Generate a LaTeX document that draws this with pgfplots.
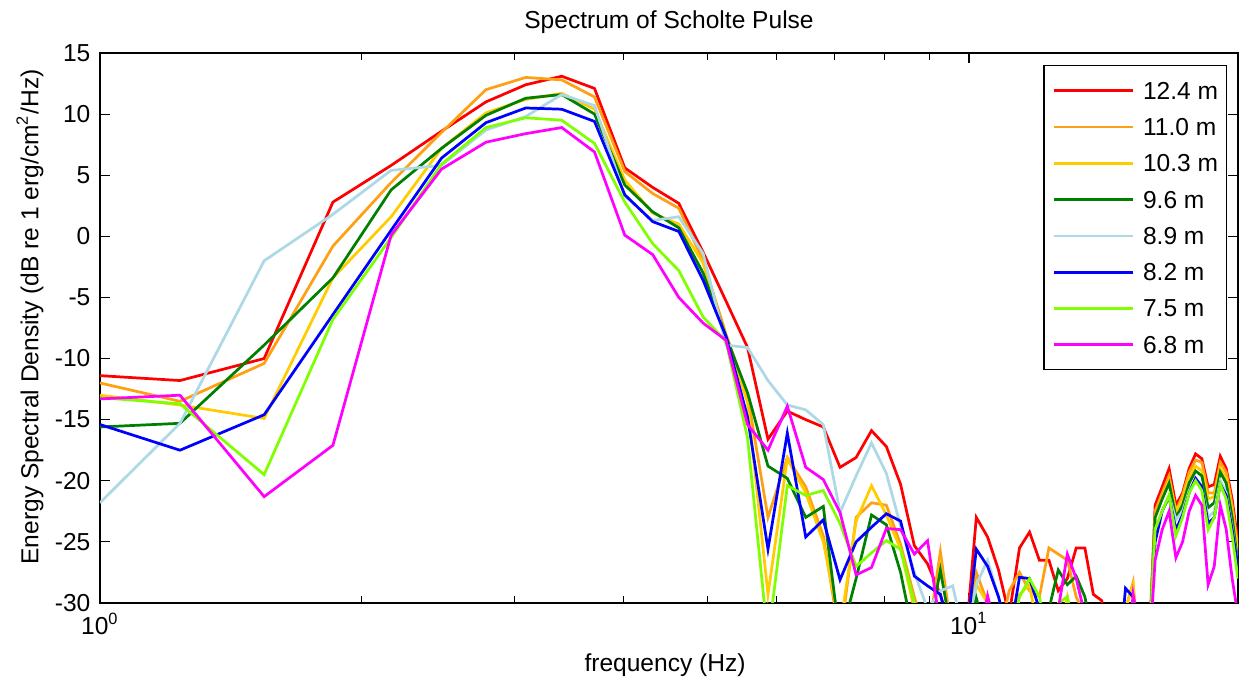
\documentclass[border=0pt]{standalone}
\usepackage{pgfplots}
\usepackage{pgfplotstable}
\pgfplotsset{compat=1.18}
\usepackage{fontspec}
\setmainfont{Liberation Sans}
\definecolor{cR}{RGB}{255,0,0}
\definecolor{cO}{RGB}{255,160,20}
\definecolor{cY}{RGB}{255,204,0}
\definecolor{cG}{RGB}{0,128,0}
\definecolor{cLB}{RGB}{173,216,230}
\definecolor{cB}{RGB}{0,0,255}
\definecolor{cL}{RGB}{128,255,0}
\definecolor{cM}{RGB}{255,0,255}
\pgfplotstableread{
f r o y g lb b l m
1.000 -11.4 -12.0 -13.0 -15.6 -21.8 -15.4 -13.2 -13.3
1.236 -11.8 -13.5 -13.8 -15.3 -15.3 -17.5 -13.7 -13.0
1.545 -10.0 -10.4 -14.9 -8.9 -2.0 -14.6 -19.5 -21.3
1.854 2.8 -0.8 -3.4 -3.4 1.8 -6.4 -6.8 -17.1
2.163 5.8 4.4 1.6 3.8 5.4 0.5 -0.1 0.1
2.472 8.6 8.5 7.2 7.2 5.8 6.4 5.9 5.5
2.781 11.0 12.0 10.1 9.9 8.7 9.3 8.9 7.7
3.090 12.4 13.0 11.2 11.3 9.8 10.5 9.7 8.4
3.399 13.1 12.8 11.7 11.6 11.6 10.4 9.5 8.9
3.708 12.1 11.4 10.4 10.0 10.7 9.4 7.6 6.9
4.017 5.6 5.3 4.6 4.2 3.3 3.4 2.8 0.1
4.326 4.0 3.5 1.9 2.0 1.3 1.2 -0.6 -1.5
4.635 2.7 2.3 1.0 0.7 1.6 0.4 -2.8 -5.0
4.944 -1.3 -2.0 -2.2 -3.0 -1.4 -3.6 -6.6 -7.1
5.253 -5.3 -8.0 -8.5 -8.2 -8.9 -8.2 -8.6 -8.5
5.562 -9.1 -13.0 -13.6 -12.8 -9.1 -14.8 -16.5 -15.4
5.871 -16.6 -23.0 -29.3 -18.8 -11.8 -25.6 -33 -17.5
6.180 -14.3 -18.1 -18.2 -19.8 -13.8 -16.1 -20.4 -13.9
6.489 -15.0 -20.5 -21.0 -23.0 -14.2 -24.6 -21.2 -18.9
6.798 -15.6 -24.5 -25.0 -22.1 -15.4 -23.2 -20.8 -19.9
7.107 -18.9 -33 -32 -33 -22.6 -28.1 -23.5 -22.6
7.416 -18.1 -23.0 -23.3 -28.0 -19.6 -25.0 -27.0 -27.7
7.725 -15.9 -21.8 -20.4 -22.8 -16.9 -23.8 -25.9 -27.1
8.034 -17.2 -22.0 -22.8 -23.6 -19.4 -22.7 -24.9 -23.9
8.343 -20.3 -25.2 -25.6 -27.5 -23.7 -23.3 -25.6 -24.0
8.652 -25.3 -29.5 -30.5 -33 -27.5 -27.8 -30 -26.0
8.961 -26.8 -33 -33 -33 -30.5 -28.6 -33 -24.9
9.270 -29.3 -25.8 -27.0 -27.3 -29.0 -29.3 -33 -32
9.579 -33 -33 -33 -33 -28.6 -33 -33 -33
9.888 -34 -34 -34 -34 -33 -34 -34 -34
10.197 -23.0 -27.5 -28.5 -29.6 -28.5 -25.6 -34 -34
10.506 -24.6 -30 -30 -33 -26.5 -27.0 -34 -29.4
10.815 -27.3 -33 -33 -34 -29.5 -29.5 -34 -33
11.124 -31 -29.0 -33 -34 -33 -33 -34 -34
11.433 -25.5 -27.5 -29.3 -34 -34 -27.9 -29.5 -34
11.742 -24.2 -29.0 -28.5 -34 -34 -28.0 -28.0 -34
12.051 -26.5 -29.5 -33 -34 -34 -30.5 -29.5 -34
12.360 -26.5 -25.5 -33 -30.5 -34 -33 -33 -34
12.669 -29.0 -26.0 -33 -27.3 -34 -34 -30 -30.5
12.978 -28.0 -26.5 -29.5 -28.5 -34 -34 -29.5 -26.0
13.287 -25.5 -29.5 -33 -27.8 -34 -34 -33 -28.0
13.596 -25.5 -31 -34 -29.5 -34 -34 -34 -31
13.905 -29.3 -33 -34 -33 -34 -34 -34 -34
14.214 -29.8 -34 -34 -34 -34 -34 -34 -34
14.523 -33 -36 -36 -36 -36 -36 -36 -36
14.832 -36 -36 -36 -36 -36 -36 -36 -36
15.141 -36 -30.5 -30.5 -36 -36 -28.8 -36 -36
15.450 -36 -28.3 -28.5 -36 -36 -29.5 -36 -29.3
15.759 -36 -36 -36 -36 -36 -33 -36 -33
16.068 -36 -36 -36 -36 -36 -36 -36 -36
16.377 -22.0 -22.5 -23.0 -23.0 -24.0 -25.0 -24.0 -26.5
16.686 -20.5 -21.0 -21.3 -21.5 -22.5 -22.5 -22.5 -24.0
16.995 -19.0 -19.6 -20.0 -20.2 -21.2 -21.3 -21.2 -22.5
17.304 -22.0 -22.5 -22.5 -23.0 -23.2 -24.0 -24.5 -26.3
17.613 -21.0 -21.2 -21.5 -22.0 -22.5 -22.8 -23.0 -25.0
17.922 -19.0 -19.3 -19.8 -20.2 -20.8 -21.0 -21.0 -22.5
18.231 -17.8 -18.3 -18.8 -19.2 -19.8 -19.8 -20.0 -21.2
18.540 -18.2 -18.5 -19.2 -19.6 -20.5 -20.5 -20.8 -22.0
18.849 -20.5 -21.0 -21.5 -22.2 -23.0 -23.5 -24.0 -28.5
19.158 -20.3 -21.0 -21.3 -21.8 -22.5 -23.0 -23.0 -27.0
19.467 -18.0 -18.5 -19.0 -19.3 -20.0 -20.3 -20.3 -22.0
19.776 -19.0 -19.3 -19.8 -20.2 -21.0 -21.2 -21.5 -24.0
20.085 -21.5 -22.0 -22.5 -23.0 -23.8 -24.0 -24.5 -28.0
20.394 -25.0 -25.5 -26.0 -26.8 -27.0 -27.0 -28.0 -31.0
}\data
\begin{document}
\begin{tikzpicture}
\begin{axis}[
  name=ax,
  xmode=log,
  scale only axis,
  width=14.66cm, height=7.085cm,
  xmin=1, xmax=20.4, ymin=-30, ymax=15,
  xtick={1,10},
  xticklabels={10\textsuperscript{0},10\textsuperscript{1}},
  ytick={-30,-25,-20,-15,-10,-5,0,5,10,15},
  yticklabels={-30,-25,-20,-15,-10,-5,0,5,10,15},
  tick align=inside,
  tick pos=both,
  major tick length=3.7pt,
  minor tick length=2.5pt,
  every tick/.style={black, line width=0.4pt},
  axis line style={black, line width=0.5pt},
  tick label style={font=\fontsize{9}{11}\selectfont},
  label style={font=\fontsize{9}{11}\selectfont},
  xlabel={frequency (Hz)},
  xlabel style={at={(axis description cs:0.4965,-0.113)}, anchor=center},
  ylabel={Energy Spectral Density (dB re 1 erg/cm\textsuperscript{2}/Hz)},
  ylabel style={at={(axis description cs:-0.0615,0.52)}, anchor=center},
  legend cell align=left,
  legend image code/.code={\draw[#1] (0pt,0pt) -- (29pt,0pt);},
  legend style={at={(axis description cs:0.9903,0.978)}, anchor=north east,
    font=\fontsize{9}{11}\selectfont, draw=black, line width=0.5pt, fill=white,
    inner xsep=3pt, inner ysep=2.5pt, row sep=0pt,
    nodes={inner sep=0pt, minimum height=13.3pt, text depth=0pt},
    /tikz/every odd column/.append style={column sep=3.3pt}},
  every axis plot/.append style={line width=1pt},
]
\addplot[cR] table[x=f,y=r]{\data};
\addplot[cO] table[x=f,y=o]{\data};
\addplot[cY] table[x=f,y=y]{\data};
\addplot[cG] table[x=f,y=g]{\data};
\addplot[cLB] table[x=f,y=lb]{\data};
\addplot[cB] table[x=f,y=b]{\data};
\addplot[cL] table[x=f,y=l]{\data};
\addplot[cM] table[x=f,y=m]{\data};
\legend{12.4 m,11.0 m,10.3 m,9.6 m,8.9 m,8.2 m,7.5 m,6.8 m}
\end{axis}
\node[font=\fontsize{9}{11}\selectfont, anchor=center] at ([yshift=0.40cm]ax.north) {Spectrum of Scholte Pulse};
\path ([shift={(-1.2882cm,-1.0563cm)}]ax.south west) rectangle ([shift={(0.0515cm,0.6828cm)}]ax.north east);
\end{tikzpicture}
\end{document}
